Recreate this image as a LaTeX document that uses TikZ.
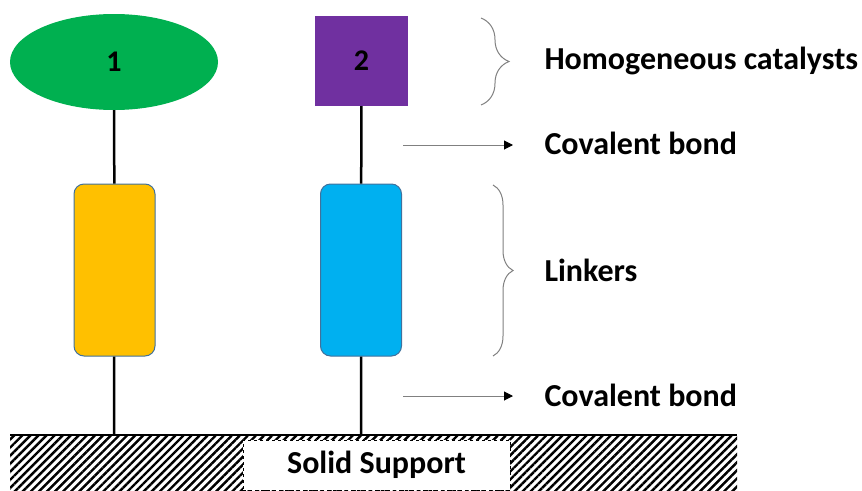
\documentclass[tikz,border=0pt]{standalone}
\usepackage{fontspec}
\setmainfont{Carlito}
\usepackage{tikz}
\usetikzlibrary{shapes.geometric,patterns.meta,decorations.pathreplacing,arrows.meta}

\definecolor{catgreen}{HTML}{00B050}
\definecolor{catpurple}{HTML}{7030A0}
\definecolor{lnkyellow}{HTML}{FFC000}
\definecolor{lnkblue}{HTML}{00B0F0}
\definecolor{lnkedge}{HTML}{41719C}

\begin{document}
\begin{tikzpicture}[x=1pt,y=-1pt,
    txt/.style={font=\fontsize{32}{38}\selectfont\bfseries, anchor=west},
    linker/.style={draw=lnkedge, line width=1pt, rounded corners=10pt,
        minimum width=81pt, minimum height=172pt},
    bond/.style={line width=2.5pt},
    brc/.style={draw=gray, line width=1pt, decorate, decoration={brace, amplitude=#1}},
    pointer/.style={draw=gray, line width=1pt, -{Triangle[black,length=9pt,width=9pt]}}]
    \useasboundingbox (0,0) rectangle (862,490);

    % Solid support
    \fill[pattern={Lines[angle=45,distance=5.7pt,line width=2.4pt]}] (10,435) rectangle (737,490);
    \draw[line width=2pt] (10,435) -- (737,435);
    \node[draw, dashed, fill=white, minimum width=267pt, minimum height=50pt,
        font=\fontsize{32}{38}\selectfont\bfseries] (sup) at (376.5,465) {Solid Support};

    % Catalysts
    \node[ellipse, fill=catgreen, minimum width=208pt, minimum height=96pt,
        font=\fontsize{30}{36}\selectfont\bfseries] (cat1) at (114,62) {1};
    \node[rectangle, fill=catpurple, minimum width=93pt, minimum height=90pt,
        font=\fontsize{30}{36}\selectfont\bfseries] (cat2) at (361.5,61) {2};

    % Linkers
    \node[linker, fill=lnkyellow] (lnk1) at (114.5,270) {};
    \node[linker, fill=lnkblue] (lnk2) at (361,270) {};

    % Bonds down to the support
    \coordinate (base1) at (114,435);
    \coordinate (base2) at (361,435);
    \draw[bond] (cat1) -- (lnk1) -- (base1);
    \draw[bond] (cat2) -- (lnk2) -- (base2);

    % Braces and arrows
    \draw[brc=28pt] (481,18) -- (481,105);
    \draw[brc=20pt] (493,185) -- (493,356);
    \coordinate (a1) at (403,145);
    \coordinate (a2) at (403,396);
    \node[txt] (hom) at (541,61) {Homogeneous catalysts};
    \node[txt] (cov1) at (541,143) {Covalent bond};
    \node[txt] (lnk) at (541,270) {Linkers};
    \node[txt] (cov2) at (541,395) {Covalent bond};
    \draw[pointer] (a1) -- (513,145);
    \draw[pointer] (a2) -- (513,396);
\end{tikzpicture}
\end{document}
